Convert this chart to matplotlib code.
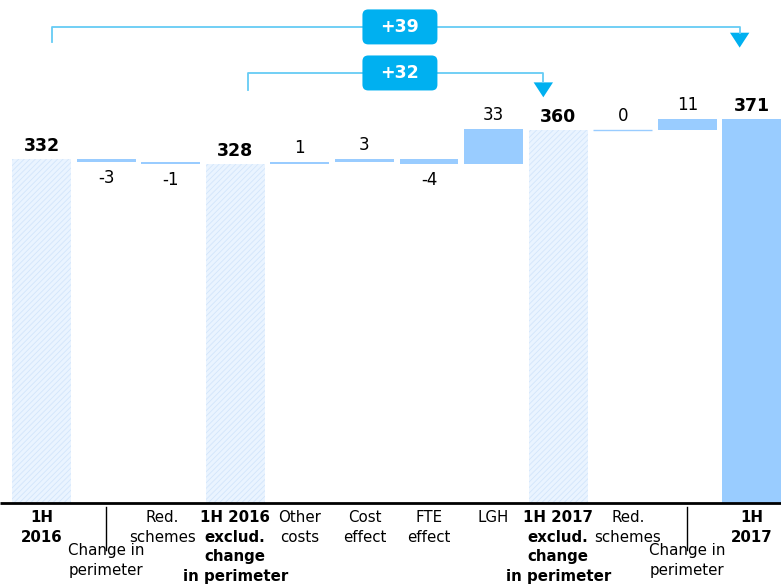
import matplotlib
matplotlib.use("Agg")
import matplotlib.pyplot as plt
from matplotlib.patches import FancyBboxPatch

plt.rcParams['font.family'] = ['DejaVu Sans']
plt.rcParams['hatch.linewidth'] = 0.6

# --- data -------------------------------------------------------------
labels = ["1H\n2016", "Change in\nperimeter", "Red.\nschemes",
          "1H 2016\nexclud.\nchange\nin perimeter", "Other\ncosts", "Cost\neffect",
          "FTE\neffect", "LGH", "1H 2017\nexclud.\nchange\nin perimeter",
          "Red.\nschemes", "Change in\nperimeter", "1H\n2017"]
values = [332, -3, -1, 328, 1, 3, -4, 33, 360, 0, 11, 371]
is_total = [True, False, False, True, False, False, False, False, True, False, False, True]
low_label = [False, True, False, False, False, False, False, False, False, False, True, False]
label_shift = [0, 0, -8, 0, 0, 0, 0, 0, 0, 5, 0, 0]   # px nudges of the category text
brackets = [("+39", 0, 11), ("+32", 3, 8)]

C_BAR = '#99ccff'
C_HATCH_FACE = '#eaf4ff'
C_HATCH_LINE = '#d2e5fb'
C_BOX = '#00b0f0'
C_LINE = '#66ccf5'

fig = plt.figure(figsize=(7.81, 5.87), dpi=100)
ax = fig.add_axes([0, 84 / 587, 1, 503 / 587])
ax.set_xlim(-0.642, 11.45)
ax.set_ylim(0, 486)
ax.axis('off')

width = 0.913
running = 0
for i, (v, tot) in enumerate(zip(values, is_total)):
    if tot:
        if i == len(values) - 1:
            ax.bar(i, v, width=width, color=C_BAR, linewidth=0)
        else:
            ax.bar(i, v, width=width, facecolor=C_HATCH_FACE, edgecolor=C_HATCH_LINE,
                   hatch='//////', linewidth=0)
        running = v
        ax.annotate(str(v), (i, v), xytext=(0, 4), textcoords='offset pixels',
                    ha='center', va='bottom', fontsize=12.5, fontweight='bold')
    else:
        bottom = running
        ax.bar(i, v, bottom=bottom, width=width, color=C_BAR,
               edgecolor=C_BAR, linewidth=1 if v == 0 else 0)
        running = bottom + v
        if v >= 0:
            ax.annotate(str(v), (i, running), xytext=(0, 5), textcoords='offset pixels',
                        ha='center', va='bottom', fontsize=12)
        else:
            ax.annotate(str(v), (i, bottom + v), xytext=(0, -7), textcoords='offset pixels',
                        ha='center', va='top', fontsize=12)

# baseline
ax.plot([-0.642, 11.45], [0, 0], color='black', lw=2, clip_on=False, solid_capstyle='butt')

# category labels, one text per line so that the neighbours don't collide
line_h = 19.5
for i, (lab, tot, low) in enumerate(zip(labels, is_total, low_label)):
    if low:
        ax.plot([i, i], [-4 / 503, -47 / 503], color='black', lw=1,
                transform=ax.get_xaxis_transform(), clip_on=False)
        off = -40
    else:
        off = -7
    for k, line in enumerate(lab.split('\n')):
        ax.annotate(line, (i, 0), xycoords=('data', 'axes fraction'),
                    xytext=(label_shift[i], off - k * line_h),
                    textcoords='offset pixels', ha='center', va='top', fontsize=10.8,
                    fontweight='bold' if tot else 'normal')

# difference brackets
levels = {"+39": (460, 445, 440, 24), "+32": (415.5, 399, 392, 24)}
for txt, a, b in brackets:
    y_line, y_left, y_tip, tri_h = levels[txt]
    xa = a + (0.16 if a == 0 else 0.2)
    xb = b - (0.19 if b == 11 else 0.23)
    ax.plot([xa, xa, xb, xb], [y_left, y_line, y_line, y_tip + tri_h * 0.6],
            color=C_LINE, lw=1.3, clip_on=False)
    ax.fill([xb - 0.15, xb + 0.15, xb], [y_tip + tri_h * 0.6, y_tip + tri_h * 0.6, y_tip],
            color=C_BOX, lw=0, clip_on=False)
    cx = 5.55
    bw, bh = 75 / 64.6, 35 / 1.035
    box = FancyBboxPatch((cx - bw / 2, y_line - bh / 2), bw, bh,
                         boxstyle='round,pad=0,rounding_size=0.09',
                         mutation_aspect=64.6 / 1.035, fc=C_BOX, ec='none',
                         clip_on=False, zorder=3)
    ax.add_patch(box)
    ax.text(cx, y_line, txt, ha='center', va='center', color='white',
            fontsize=12.5, fontweight='bold', zorder=4)

fig.savefig('out.png', dpi=100)
